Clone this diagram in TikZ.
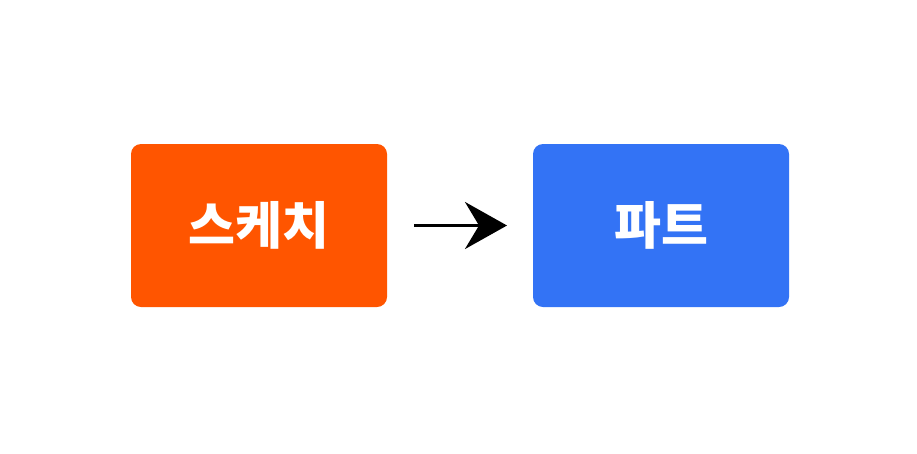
\documentclass[tikz,border=0pt]{standalone}
\usepackage{fontspec}
\newfontfamily\krfont{Noto Sans CJK KR Black}
\usetikzlibrary{arrows.meta}
\definecolor{sketchorange}{HTML}{FF5500}
\definecolor{partblue}{HTML}{3373F5}
\begin{document}
\begin{tikzpicture}[x=1pt,y=-1pt,
  box/.style={rounded corners=10pt, minimum width=256pt, minimum height=163pt, inner sep=0pt, text=white, font=\krfont\fontsize{51}{51}\selectfont},
  conn/.style={line width=3.2pt, -{Stealth[length=42pt,width=47pt,inset=14pt]}}]
\useasboundingbox (0,0) rectangle (917,453);
\node[box, fill=sketchorange] (sketch) at (259,225.5) {스케치};
\node[box, fill=partblue] (part) at (661,225.5) {파트};
\coordinate (a1) at (414,225.5);
\coordinate (a2) at (507,225.5);
\draw[conn] (a1) -- (a2);
\end{tikzpicture}
\end{document}
